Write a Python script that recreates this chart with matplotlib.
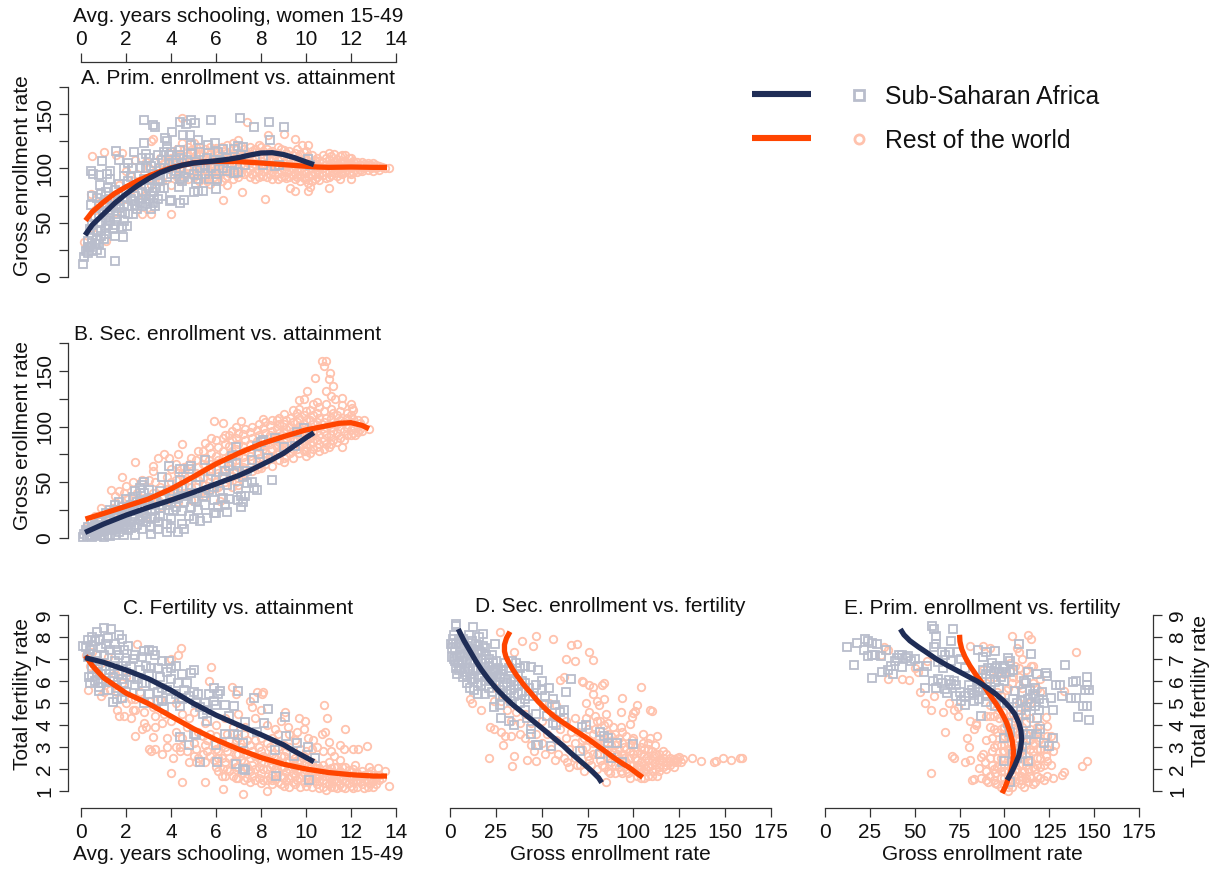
import numpy as np
import matplotlib
matplotlib.use('Agg')
import matplotlib.pyplot as plt
from matplotlib.lines import Line2D

plt.rcParams['font.family'] = ['Liberation Sans', 'DejaVu Sans']

W, H = 1214, 869
NAVY = '#1f2d56'
ORANGE = '#ff4500'
PALE_ORANGE = '#ffc2ad'
PALE_NAVY = '#b9bdcc'

# trend lines
a_navy = [(0.18,38.5),(0.5,48),(1,58),(1.5,68),(2,76.5),(2.5,84),(3,90.5),(3.5,96),(4,100),(4.5,103),(5,105),(5.5,106),(6,107),(6.5,108.3),(7,110),(7.5,112.3),(8,114.2),(8.5,114.5),(9,112.8),(9.5,109.8),(10,106),(10.35,103.5)]
a_orange = [(0.2,52),(0.5,60),(1,69),(1.5,77),(2,83),(2.5,88.5),(3,93),(3.5,97),(4,100.5),(4.5,103),(5,105),(5.5,106),(6,106.5),(7,106.3),(8,105),(9,103.5),(10,102),(10.5,101.3),(11,101),(12,101.3),(13,101),(13.6,101)]
b_navy = [(0.18,5),(1,12.5),(2,20.5),(3,27.5),(4,34),(5,41),(6,48.5),(7,56),(7.5,60.5),(8,65.5),(8.5,70.5),(9,76),(9.5,83),(10,90),(10.35,94.5)]
b_orange = [(0.2,17),(1,22),(2,28.5),(3,35),(4,44),(5,55),(6,66.5),(7,76),(8,84.5),(9,91),(10,97),(11,101),(11.5,103),(12,103.5),(12.5,101),(12.8,98)]
c_navy = [(0.18,7.06),(1,6.85),(2,6.5),(3,6.1),(4,5.58),(5,4.98),(6,4.45),(7,4.0),(8,3.56),(9,3.1),(9.5,2.8),(10.35,2.33)]
c_orange = [(0.2,7.15),(0.5,6.7),(1,6.15),(1.5,5.8),(2,5.45),(3,4.97),(4,4.4),(5,3.83),(6,3.33),(7,2.9),(8,2.52),(9,2.22),(10,2),(11,1.84),(12,1.74),(13,1.68),(13.6,1.68)]
d_navy = [(4.5,8.36),(7.5,7.85),(11,7.35),(14,6.92),(17,6.53),(21,6.08),(25.5,5.63),(30,5.25),(34.5,4.9),(39,4.6),(43.6,4.3),(48,4.0),(52.7,3.68),(57,3.38),(61.8,3.05),(66,2.72),(70.9,2.37),(75,2.08),(78,1.85),(81,1.6),(82.7,1.38)]
d_orange = [(32.7,8.24),(30.8,7.95),(29.7,7.65),(29.7,7.35),(30.5,7.1),(32,6.85),(34,6.55),(36.4,6.25),(40,5.85),(43.6,5.5),(48,5.07),(52.7,4.68),(57,4.38),(61.8,4.1),(66,3.87),(71,3.6),(75.5,3.35),(80,3.08),(85,2.78),(89,2.53),(94,2.25),(98,2.05),(102,1.8),(105,1.62)]
e_navy = [(42,8.36),(44,8.1),(47.3,7.83),(52,7.55),(56.6,7.3),(62,7),(67.7,6.73),(73,6.5),(78.8,6.25),(85,5.98),(90,5.72),(95,5.42),(99.3,5.12),(103,4.8),(105.8,4.5),(108,4.1),(109.2,3.75),(109.6,3.35),(109,2.95),(108,2.6),(106,2.2),(104,1.85),(101.5,1.5)]
e_orange = [(75,8.1),(75.2,7.8),(76.2,7.45),(78,7.1),(80.7,6.7),(84,6.3),(88,5.85),(92,5.35),(95.5,4.95),(98.5,4.55),(101,4.15),(103,3.7),(104.3,3.3),(105,2.85),(104.8,2.4),(104,2),(102.6,1.65),(100.5,1.2),(98.7,0.9)]

# scatter clouds
a_africa = [(0.1,12),(1.5,15),(0.9,22),(0.15,18),(0.2,24),(0.3,22),(0.5,24),(0.7,25),(0.4,28),(0.6,30),(0.8,30),(0.3,33),(0.5,36),(0.9,38),(1.0,35),(0.7,42),(1.1,45),(0.5,48),(0.9,50),(1.3,52),(0.4,44),(1.5,38),(1.85,37),(2.05,47),(1.8,46),(1.5,48),(1.2,57),(1.6,58),(1.9,52),(1.0,60),(1.4,65),(0.8,66),(0.45,66),(0.5,75),(0.7,73),(0.9,76),(1.1,78),(0.85,85),(1.2,82),(1.5,80),(0.45,98),(0.55,95),(0.8,94),(1.15,95),(1.3,98),(0.95,107),(1.55,116),(1.7,108),(2.1,105),(2.3,100),(1.9,100),(2.35,115),(2.8,123),(2.7,110),(2.9,113),(2.8,145),(3.2,140),(3.3,138),(3.75,128),(3.8,125),(4.05,134),(4.4,143),(4.65,141),(4.9,145),(5.05,142),(5.8,145),(7.05,146),(7.7,138),(8.35,143),(9.0,138),(8.4,126),(4.55,131),(4.85,131),(5.2,126),(5.65,122),(5.95,123),(4,71),(3.95,70),(4.4,68),(4.6,71),(5,78),(5.2,79),(5.4,79),(6,81),(6.05,90),(4.35,83),(4.4,90),(4.6,92),(3.7,82),(3.5,82),(7.2,120),(7.0,121),(6.8,118),(8.1,103),(8.6,102),(8.8,103),(10.2,103),(10.1,109),(8.1,110),
(2.1,65),(2.3,58),(2.3,70),(2.4,75),(2.5,63),(2.5,85),(2.6,68),(2.7,65),(2.7,78),(2.8,90),(2.9,67),(3,72),(3,82),(3.1,63),(3.2,68),(3.2,78),(3.2,95),(3.3,65),(3.4,72),(3.4,88),(3.5,100),(3.6,108),(3.3,105),(3,110),(3.9,112),(3.7,115),(3.8,120),(4,115),(4.1,105),(4.2,98),(4.4,112),(4.4,117),(4.4,100),(4.5,88),(4.7,108),(4.9,113),(4.9,122),(5,95),(5.1,87),(5.2,90),(5.3,100),(5.3,115),(5.5,103),(5.5,95),(5.7,90),(5.8,100),(5.9,108),(6,95),(6.1,115),(6.3,118),(6.3,100),(6.5,98),(6.5,110),(6.7,105),(6.8,96),(7,97),(7.1,112),(7.3,103),(3.5,90),(2.1,88),(2,78),(1.7,70),(1.8,60),(2.2,92),(2.6,100),(2.9,100),(1.3,72),(1,68),(1.7,86),(1.9,93),(1.3,90),(3.8,92),(4,95),(3.6,75),
(0.3,28),(0.5,31),(0.7,34),(0.9,43),(1.1,40),(1.2,48),(1.4,44),(0.6,56),(0.8,58),(1.1,54),(1.3,62),(1.6,53),(1.7,64),(1.9,66),(1.5,72),(2.1,58),(2.2,72),(2.4,66),(2.7,72),(2.9,76),(3.1,75),(3.3,82),(3,90),(3.5,94),(3.7,100),(3.9,104),(3.1,102),(3.4,112),(4.2,108),(4.5,105),(4.8,99),(5.1,106),(5.6,110),(6.2,107)]
a_rest = [(0.15,32),(0.45,76),(0.5,111),(1.0,115),(1.55,112),(1.8,114),(0.8,68),(0.6,62),(1.1,33),(0.5,45),(4,58),(6.3,71),(7.15,78),(8.2,72),(9.3,82),(9.5,79),(10.1,79),(10.2,83),(11,82),(11.5,90),(12,90),(4.5,146),(7.4,143),(8.3,131),(9,132),(9.5,127),(10.1,122),(9.8,122),(3.2,127),(3.1,125),(6,119),(1.2,70),(1.4,75),(1.9,72),(2.2,80),(2.4,108),(2.5,95),(2.7,58),(2.8,75),(3.1,58),(3,100),(3.3,92),(3.5,110),(3.7,105),
(4,85),(4,100),(4,110),(4.25,92),(4.25,105),(4.25,118),(4.5,98),(4.5,110),(4.5,123),(4.75,90),(4.75,102),(4.75,112),(4.75,120),(5,92),(5,100),(5,108),(5,116),(5,123),(5.25,88),(5.25,97),(5.25,105),(5.25,112),(5.25,120),(5.5,92),(5.5,100),(5.5,108),(5.5,118),(5.75,86),(5.75,96),(5.75,104),(5.75,113),(5.75,120),(6,90),(6,99),(6,107),(6,114),(6.25,88),(6.25,97),(6.25,105),(6.25,112),(6.25,120),(6.5,85),(6.5,93),(6.5,102),(6.5,110),(6.5,122),(6.75,90),(6.75,99),(6.75,106),(6.75,114),(6.75,123),(7,92),(7,100),(7,107),(7,114),(7,126),(7.25,95),(7.25,103),(7.25,110),(7.25,118),(7.5,92),(7.5,99),(7.5,106),(7.5,113),(7.5,120),(7.75,90),(7.75,97),(7.75,104),(7.75,111),(7.75,118),(8,95),(8,101),(8,107),(8,113),(8,120),(8.25,92),(8.25,99),(8.25,105),(8.25,111),(8.25,118),(8.5,90),(8.5,97),(8.5,103),(8.5,109),(8.5,116),(8.75,90),(8.75,96),(8.75,102),(8.75,108),(8.75,114),(8.75,120),(9,93),(9,99),(9,105),(9,111),(9,117),(9.25,92),(9.25,98),(9.25,104),(9.25,110),(9.25,116),(9.5,90),(9.5,96),(9.5,102),(9.5,108),(9.5,114),(9.75,88),(9.75,94),(9.75,100),(9.75,106),(9.75,113),(10,90),(10,96),(10,102),(10,108),(10,116),(10.25,88),(10.25,94),(10.25,100),(10.25,106),(10.25,112),(10.5,92),(10.5,98),(10.5,104),(10.5,110),(10.75,94),(10.75,100),(10.75,106),(10.75,112),(11,92),(11,97),(11,103),(11,108),(11,114),(11.25,96),(11.25,101),(11.25,106),(11.25,113),(11.5,96),(11.5,101),(11.5,106),(11.5,111),(11.75,97),(11.75,102),(11.75,107),(11.75,112),(12,95),(12,100),(12,105),(12,110),(12.25,97),(12.25,101),(12.25,106),(12.5,98),(12.5,102),(12.5,106),(12.75,99),(12.75,103),(12.75,105),(13,98),(13,101),(13,105),(13.25,99),(13.25,102),(13.5,100),(13.7,100),
(1.5,60),(1.7,85),(2,98),(2.3,88),(2.6,80),(2.9,106),(3.1,85),(3.4,100),(3.6,88),(3.8,100),(3.9,114),
(4.1,95),(4.1,104),(4.4,88),(4.4,101),(4.4,113),(4.6,94),(4.6,105),(4.6,118),(4.9,96),(4.9,106),(4.9,117),(5.1,96),(5.1,104),(5.1,112),(5.1,120),(5.4,92),(5.4,102),(5.4,112),(5.6,88),(5.6,97),(5.6,105),(5.6,115),(5.9,92),(5.9,101),(5.9,110),(5.9,118),(6.1,94),(6.1,103),(6.1,110),(6.4,91),(6.4,100),(6.4,108),(6.4,116),(6.6,96),(6.6,105),(6.6,113),(6.9,95),(6.9,103),(6.9,110),(6.9,119),(7.1,96),(7.1,104),(7.1,111),(7.1,121),(7.4,97),(7.4,106),(7.4,114),(7.6,95),(7.6,102),(7.6,109),(7.6,116),(7.9,92),(7.9,99),(7.9,105),(7.9,115),(7.9,122),(8.1,93),(8.1,98),(8.1,104),(8.1,116),(8.4,95),(8.4,102),(8.4,108),(8.4,115),(8.6,94),(8.6,100),(8.6,106),(8.6,112),(8.9,92),(8.9,98),(8.9,104),(8.9,110),(8.9,118),(9.1,91),(9.1,97),(9.1,102),(9.1,108),(9.1,114),(9.4,94),(9.4,100),(9.4,106),(9.4,112),(9.6,92),(9.6,98),(9.6,104),(9.6,110),(9.6,118),(9.9,91),(9.9,97),(9.9,103),(9.9,109),(9.9,115),(10.1,87),(10.1,93),(10.1,99),(10.1,105),(10.1,111),(10.4,90),(10.4,96),(10.4,102),(10.4,108),(10.6,89),(10.6,95),(10.6,101),(10.6,107),(10.9,91),(10.9,97),(10.9,103),(10.9,110),(11.1,94),(11.1,100),(11.1,105),(11.1,111),(11.4,93),(11.4,99),(11.4,104),(11.4,109),(11.6,95),(11.6,100),(11.6,105),(11.6,112),(11.9,96),(11.9,101),(11.9,105),(11.9,110),(12.1,97),(12.1,102),(12.1,107),(12.4,99),(12.4,103),(12.6,100),(12.6,104),(12.9,100),(12.9,103),(13.1,100),(13.1,103),(13.4,101)]

b_africa = [(2.4,3),(3.1,4),(3.8,5),(4.3,5),(4.0,9),(4.6,8),(4.5,13),(5,17),(5.3,15),(5.6,18),(5.9,22),(6.0,22),(6.5,23),(7.1,28),(7.1,38),(7.3,38),(7.2,32),(7.0,34),(3.9,65),(3.6,55),(4.4,62),(4.9,65),(4.8,62),(5.5,70),(6.6,65),(6.4,60),(6.7,74),(6.9,67),(6.9,82),(7.3,60),(7.9,75),(7.8,83),(8.1,88),(8.0,86),(8.6,90),(9,82),(9.5,83),(9.6,95),(9.9,99),(8.3,72),(8.5,52),(7.7,45),(7.8,43),(7.4,49),(7.6,50),(2.4,42),(2.6,45),(2.7,48),(2.8,50),(1.5,30),(1.7,32),
(0.1,1),(0.15,4),(0.2,7),(0.25,2),(0.3,10),(0.4,3),(0.4,6),(0.5,1),(0.5,9),(0.6,4),(0.6,12),(0.7,2),(0.7,7),(0.8,14),(0.9,3),(0.9,9),(0.9,18),(1,1),(1,6),(1,12),(1.1,22),(1.2,3),(1.2,10),(1.2,16),(1.3,2),(1.3,25),(1.4,7),(1.4,13),(1.5,19),(1.5,3),(1.6,10),(1.6,25),(1.7,15),(1.7,5),(1.8,21),(1.8,28),(1.9,3),(1.9,11),(2,17),(2,24),(2,35),(2.1,7),(2.2,14),(2.2,30),(2.3,20),(2.3,37),(2.4,10),(2.5,26),(2.6,16),(2.6,33),(2.7,8),(2.8,22),(2.8,40),(2.9,14),(3,30),(3,43),(3.1,10),(3.1,19),(3.2,35),(3.3,25),(3.4,8),(3.4,14),(3.5,42),(3.5,20),(3.6,30),(3.7,36),(3.8,13),(3.9,25),(3.9,48),(4,18),(4,32),(4.1,42),(4.2,28),(4.3,36),(4.4,52),(4.5,24),(4.5,45),(4.6,32),(4.8,20),(4.9,28),(4.9,40),(5,35),(5.1,48),(5.2,25),(5.3,55),(5.4,38),(5.5,30),(5.7,43),(5.8,60),(5.9,34),(6,52),(6.1,28),(6.2,42),(6.3,55),(6.4,30),(6.5,48),(6.6,35),(6.8,58),(7,44),(7.2,55),(7.4,60),(7.6,70),
(0.3,5),(0.5,14),(0.7,11),(0.8,5),(0.9,14),(1.1,9),(1.1,17),(1.3,11),(1.3,20),(1.5,8),(1.5,15),(1.6,20),(1.7,11),(1.8,8),(1.8,16),(2,12),(2,20),(2.1,28),(2.2,9),(2.3,24),(2.4,17),(2.5,12),(2.5,32),(2.7,20),(2.7,28),(2.9,18),(2.9,34),(3.1,24),(3.3,18),(3.3,32),(3.5,27),(3.6,38),(3.8,30),(4.1,24),(4.3,42),(4.7,38),(5.1,33),(5.5,40),(5.9,46),(6.3,36)]
b_rest = [(10.7,159),(10.9,159),(10.8,154),(11.05,148),(11.0,143),(10.4,144),(10.05,132),(10.9,132),(11.2,136),(11.1,127),(11.6,126),(11.3,125),(9.9,125),(9.7,124),(12,120),(12.05,117),(12.1,115),(11.6,119),(5.9,105),(6.3,103),(7.1,105),(4.5,84),(2.4,68),(3.2,65),(3.4,72),(3.7,75),(3.9,72),(4.3,75),(0.6,20),(0.9,27),(1.35,43),(1.8,55),(1.5,38),(2.0,47),(1.25,22),(1.7,42),(1.9,40),(2.1,36),(2.3,50),(2.5,40),(2.7,52),(3,52),(3.3,50),(3.5,46),(3.2,60),(2.9,19),(3.9,34),(6.2,33),(6,45),(7,48),(8,63),(8.5,65),(9,68),(10,78),(11,82),(11.6,82),(12.2,92),(12.5,96),(12.8,98),(12.6,106),(12.3,106),
(0.2,10),(0.4,14),(0.6,12),(0.8,18),(1,20),(1.2,17),(1.4,27),(1.6,24),(1.8,30),(2,24),(2.2,30),(2.4,34),(2.6,28),(2.8,36),(3,30),(3.2,40),(3.4,34),(3.6,28),(3.8,44),(3.8,55),(4,38),(4,50),(4,62),(4.3,32),(4.3,46),(4.3,58),(4.6,40),(4.6,52),(4.6,64),(4.9,34),(4.9,46),(4.9,58),(4.9,72),(5.2,40),(5.2,52),(5.2,64),(5.2,78),(5.5,38),(5.5,48),(5.5,60),(5.5,72),(5.5,85),(5.8,44),(5.8,56),(5.8,66),(5.8,76),(5.8,90),(6.1,46),(6.1,58),(6.1,70),(6.1,82),(6.4,50),(6.4,62),(6.4,72),(6.4,84),(6.4,92),(6.7,46),(6.7,56),(6.7,68),(6.7,78),(6.7,88),(6.7,96),(7,54),(7,64),(7,74),(7,84),(7,94),(7.3,58),(7.3,68),(7.3,78),(7.3,88),(7.3,98),(7.6,60),(7.6,70),(7.6,80),(7.6,90),(7.6,100),(7.9,64),(7.9,72),(7.9,82),(7.9,92),(7.9,102),(8.2,66),(8.2,76),(8.2,84),(8.2,94),(8.2,104),(8.5,72),(8.5,80),(8.5,88),(8.5,96),(8.5,106),(8.8,70),(8.8,78),(8.8,86),(8.8,94),(8.8,102),(8.8,108),(9.1,74),(9.1,82),(9.1,90),(9.1,98),(9.1,106),(9.4,72),(9.4,80),(9.4,88),(9.4,96),(9.4,104),(9.4,115),(9.7,76),(9.7,84),(9.7,92),(9.7,100),(9.7,108),(9.7,116),(10,74),(10,82),(10,90),(10,98),(10,106),(10,114),(10.3,80),(10.3,86),(10.3,94),(10.3,102),(10.3,110),(10.3,120),(10.6,78),(10.6,84),(10.6,92),(10.6,100),(10.6,108),(10.6,118),(10.9,84),(10.9,92),(10.9,100),(10.9,108),(10.9,120),(11.2,88),(11.2,96),(11.2,104),(11.2,112),(11.5,90),(11.5,98),(11.5,106),(11.5,114),(11.8,92),(11.8,100),(11.8,108),(11.8,112),(12.1,94),(12.1,100),(12.1,107),(12.4,98),(12.4,103),
(3.6,36),(3.9,44),(4.2,38),(4.2,52),(4.2,66),(4.5,46),(4.5,58),(4.8,40),(4.8,52),(4.8,66),(5.1,46),(5.1,58),(5.1,70),(5.4,42),(5.4,54),(5.4,66),(5.4,78),(5.7,50),(5.7,60),(5.7,70),(5.7,82),(6,50),(6,62),(6,74),(6,88),(6.3,54),(6.3,66),(6.3,78),(6.3,90),(6.6,52),(6.6,62),(6.6,73),(6.6,83),(6.6,92),(6.9,50),(6.9,59),(6.9,70),(6.9,80),(6.9,90),(6.9,100),(7.2,56),(7.2,64),(7.2,73),(7.2,83),(7.2,93),(7.5,64),(7.5,74),(7.5,84),(7.5,95),(7.8,62),(7.8,68),(7.8,77),(7.8,87),(7.8,97),(8.1,70),(8.1,80),(8.1,89),(8.1,99),(8.1,107),(8.4,74),(8.4,84),(8.4,92),(8.4,101),(8.7,76),(8.7,82),(8.7,90),(8.7,98),(8.7,106),(9,72),(9,78),(9,86),(9,94),(9,102),(9,111),(9.3,76),(9.3,84),(9.3,92),(9.3,100),(9.3,108),(9.6,80),(9.6,88),(9.6,96),(9.6,104),(9.6,112),(9.9,78),(9.9,86),(9.9,94),(9.9,102),(9.9,110),(10.2,76),(10.2,84),(10.2,90),(10.2,98),(10.2,106),(10.2,115),(10.5,82),(10.5,88),(10.5,96),(10.5,104),(10.5,112),(10.5,122),(10.8,80),(10.8,88),(10.8,96),(10.8,104),(10.8,114),(11.1,84),(11.1,92),(11.1,100),(11.1,108),(11.1,116),(11.4,86),(11.4,94),(11.4,102),(11.4,110),(11.7,88),(11.7,96),(11.7,104),(12,92),(12,97),(12,104),(12,110),(12.3,95),(12.3,100)]

c_africa = [(1,8.4),(0.7,8.25),(1.35,8.35),(1.7,8.1),(0.3,7.85),(0.2,7.55),(0.1,7.6),(0.5,8.0),(2.1,7.6),(1.8,7.9),(5,6.5),(4.9,6.35),(5.3,2.3),(6.05,2.3),(6.9,2.25),(7.2,2),(7.3,1.95),(8.65,1.7),(10.15,1.5),(4.4,3.45),(4.8,3.1),(6,3.1),(5,3.6),(5.1,3.55),(6.4,3.6),(6.8,3.6),(7,3.55),(7.2,3.2),(7.3,4.15),(7.8,3.7),(8.15,4.1),(8.3,4.75),(9.05,4.35),(9.1,3.5),(9.6,3.2),(9.45,2.6),(10.1,3),(10.4,2.5),(8.6,2.85),(7,5.55),(7.7,5.25),(6.8,4.85),(5.9,5.7),(1.4,5.05),(1.6,5.2),(1.8,5.25),(0.8,5.55),(0.4,5.9),(0.35,6.2),(0.6,6.0),(0.8,5.75),(1.1,5.95),(1.3,6.5),(0.5,7.6),(0.7,7.2),(0.9,7.5),(1.1,7.7),(1.3,7.4),(1.5,7.7),(1.7,7.2),(1.9,7.4),(2,6.9),(0.5,6.6),(0.7,6.9),(0.9,6.3),(1.1,6.7),(1.3,6),(1.5,6.9),(1.7,6.3),(1.9,5.9),(0.3,7.1),(2.2,6.2),(2.4,7.2),(2.4,5.8),(2.6,6.5),(2.7,7.1),(2.8,7.35),(3,7.4),(3.2,7.35),(3.3,7.2),(3.1,6.6),(2.9,5.9),(2.8,5),(3.4,5.5),(3.5,6.2),(3.6,5.1),(3.7,4.8),(3.6,6.9),(3.8,6.4),(4,6.1),(4,6.6),(4,5.2),(4.2,6.7),(4.3,5.9),(4.4,4.85),(4.5,6.3),(4.6,5.6),(4.8,5.3),(5,5.5),(5.1,5.0),(5.2,5.4),(5.4,4.5),(5.5,5.0),(5.6,4.2),(5.7,5.4),(5.9,5.1),(6.1,5.4),(6.2,5.55),(6.4,4.9),(6.6,4.4),
(0.4,7.4),(0.6,7.8),(0.8,7.9),(1,7.2),(1.2,7.95),(1.4,6.7),(1.6,7.4),(1.8,6.7),(0.5,6.2),(0.7,6.4),(0.9,5.9),(1.1,6.3),(1.2,5.6),(1.4,6.2),(1.6,5.7),(1.8,6.1),(2,6.4),(2,5.5),(2.2,6.7),(2.3,7),(2.5,6.1),(2.6,5.4),(2.7,5.9),(2.9,6.7),(3,6.3),(3,5.4),(3.2,5.8),(3.4,6.6),(3.4,5.1),(3.6,5.7),(3.8,5.6),(3.9,6.9),(4.2,5.4),(4.5,5.2),(4.7,5.9),(5.3,4.8),(5.6,4.7),(6,4.9)]
c_rest = [(0.3,5.6),(0.9,5.3),(1,5.5),(1.6,4.7),(1.7,4.4),(1.9,4.4),(2,5),(2.2,4.3),(2.3,4.7),(2.4,5.2),(2.4,3.5),(2.5,7.7),(2.7,3.8),(2.8,4.1),(2.9,3.9),(3,2.9),(3.1,2.8),(3.2,3.45),(3.3,2.9),(3.3,3.9),(3.3,4.4),(3.6,2.7),(3.6,4.1),(3.8,3.4),(3.8,3),(4,1.8),(4.1,2.5),(4.2,3),(4.4,3),(4.5,1.4),(4.4,2.8),(4,7),(4.3,7.2),(4.45,7.5),(4.8,4.3),(4.8,2.3),(5,2.6),(5.1,2.9),(5.5,1.4),(5.4,3.5),(5.6,2.8),(5.7,6),(5.8,6.65),(6,3.5),(6.1,2.5),(6.3,1.1),(6.3,2),(6.4,4.3),(6.7,5.75),(6.9,5.4),(7,4.5),(7.2,0.85),(7.3,3.9),(7.5,5.1),(7.6,4.8),(7.8,5.5),(8,4.7),(8.05,5.4),(8.1,5.5),(8.25,0.98),(8.5,1.5),(8.6,3.8),(8.9,4.2),(9.05,4.6),(9.2,3.9),(9.6,3.7),(9.7,4.3),(9.95,4.2),(9.9,3.8),(10.1,3.4),(10.3,3.3),(10.8,4.9),(10.95,4.3),(10.7,3.6),(10.85,3.7),(11,3.25),(11.1,2.8),(11.5,3.1),(11.7,2.9),(11.75,3.8),(12.1,2.9),(12.3,2.9),(12.7,3.05),(13.7,1.22),(12.2,2.2),(12.8,2.1),(13.2,2.05),(13.5,1.9),
(0.2,7.2),(0.4,6.7),(0.5,7.3),(0.7,6.3),(0.9,6.8),(1.1,6),(1.2,7.1),(1.3,5.6),(1.5,6.3),(1.6,5.5),(1.8,5.9),(2,6.2),(2.2,5.2),(2.4,4.7),(2.6,5.5),(2.8,4.6),(3,5.1),(3.2,4.8),(3.5,5.2),(3.7,4.5),(4,4.2),(4.2,3.7),(4.2,5),(4.5,3.4),(4.5,4.5),(4.7,2.8),(4.7,3.9),(5,3.2),(5,4.6),(5.2,2.5),(5.2,3.7),(5.5,2.3),(5.5,3.1),(5.5,4.1),(5.75,2.6),(5.75,3.6),(6,2.1),(6,2.9),(6,4),(6.25,1.7),(6.25,2.5),(6.25,3.2),(6.5,2),(6.5,2.8),(6.5,3.6),(6.75,1.7),(6.75,2.3),(6.75,3),(6.75,3.9),(7,1.6),(7,2.1),(7,2.7),(7,3.4),(7.25,1.5),(7.25,2.3),(7.25,2.9),(7.25,3.6),(7.5,1.4),(7.5,1.9),(7.5,2.5),(7.5,3.1),(7.75,1.5),(7.75,2),(7.75,2.6),(7.75,3.3),(7.75,4.3),(8,1.35),(8,1.8),(8,2.3),(8,2.8),(8,3.4),(8.25,1.5),(8.25,2),(8.25,2.5),(8.25,3.2),(8.25,4),(8.5,1.3),(8.5,1.75),(8.5,2.2),(8.5,2.7),(8.5,3.4),(8.75,1.4),(8.75,1.85),(8.75,2.3),(8.75,3),(8.75,3.6),(9,1.25),(9,1.65),(9,2.1),(9,2.6),(9,3.1),(9.25,1.2),(9.25,1.6),(9.25,2),(9.25,2.4),(9.25,3),(9.25,3.6),(9.5,1.3),(9.5,1.7),(9.5,2.1),(9.5,2.5),(9.5,3.3),(9.75,1.2),(9.75,1.6),(9.75,2),(9.75,2.4),(9.75,2.9),(10,1.25),(10,1.6),(10,1.95),(10,2.3),(10,2.8),(10.25,1.2),(10.25,1.55),(10.25,1.9),(10.25,2.3),(10.25,2.9),(10.5,1.3),(10.5,1.6),(10.5,1.9),(10.5,2.2),(10.5,3),(10.75,1.2),(10.75,1.5),(10.75,1.85),(10.75,2.2),(10.75,2.8),(10.9,1.05),(11,1.3),(11,1.6),(11,1.9),(11,2.3),(11.25,1.2),(11.25,1.5),(11.25,1.8),(11.25,2.1),(11.25,2.6),(11.5,1.3),(11.5,1.6),(11.5,1.9),(11.5,2.4),(11.75,1.15),(11.75,1.45),(11.75,1.75),(11.75,2.1),(12,1.25),(12,1.55),(12,1.85),(12.25,1.2),(12.25,1.5),(12.25,1.8),(12.5,1.3),(12.5,1.6),(12.5,1.9),(12.75,1.2),(12.75,1.5),(12.75,1.8),(13,1.2),(13,1.45),(13,1.75),(13.25,1.5),(13.25,1.75),
(5.1,2.3),(5.4,2.7),(5.6,3.3),(5.9,2.4),(5.9,3.2),(6.1,1.9),(6.1,2.8),(6.4,1.7),(6.4,2.3),(6.4,3),(6.6,1.9),(6.6,2.5),(6.6,3.3),(6.9,1.6),(6.9,2.1),(6.9,2.7),(6.9,3.3),(7.1,1.8),(7.1,2.4),(7.1,3),(7.4,1.6),(7.4,2.1),(7.4,2.7),(7.4,3.3),(7.6,1.7),(7.6,2.2),(7.6,2.8),(7.9,1.6),(7.9,2.1),(7.9,2.5),(7.9,3),(8.1,1.5),(8.1,2),(8.1,2.6),(8.4,1.6),(8.4,2.1),(8.4,2.4),(8.4,3),(8.6,1.55),(8.6,2),(8.6,2.5),(8.9,1.3),(8.9,1.7),(8.9,2.1),(8.9,2.6),(9.1,1.45),(9.1,1.85),(9.1,2.3),(9.1,2.8),(9.4,1.4),(9.4,1.8),(9.4,2.2),(9.4,2.7),(9.6,1.5),(9.6,1.9),(9.6,2.3),(9.9,1.4),(9.9,1.8),(9.9,2.2),(9.9,2.6),(10.1,1.4),(10.1,1.75),(10.1,2.15),(10.4,1.45),(10.4,1.75),(10.4,2.05),(10.6,1.15),(10.6,1.45),(10.6,1.75),(10.6,2.05),(10.9,1.35),(10.9,1.7),(10.9,2),(11.1,1.2),(11.1,1.45),(11.1,1.75),(11.1,2.05),(11.4,1.15),(11.4,1.45),(11.4,1.75),(11.4,2.1),(11.6,1.2),(11.6,1.5),(11.6,1.8),(11.6,2.1),(11.9,1.35),(11.9,1.65),(11.9,1.95),(12.1,1.15),(12.1,1.4),(12.1,1.7),(12.1,2),(12.4,1.4),(12.4,1.7),(12.6,1.15),(12.6,1.45),(12.6,1.75),(12.9,1.35),(12.9,1.6),(12.9,1.9),(13.1,1.3),(13.1,1.6),(13.4,1.6)]

d_africa = [(3.5,8.5),(3,8.6),(12.5,8.45),(18,8.15),(1.5,7.7),(1,7.5),(0.5,7.7),(2,8.1),(10.5,8.1),(16,8),(24.5,7.7),(2,7),(3,6.6),(4,6.3),(5,6.5),(2.5,7.4),(5,7.9),(7,7.9),(9,7.6),(12,7.8),(14,7.7),(16,7.4),(18,7.6),(5.5,7.2),(7.5,7.1),(9.5,7),(11.5,7.2),(13.5,6.9),(15.5,6.9),(17.5,7),(19.5,7.2),(21.5,7),(23.5,6.8),(6,6.6),(8,6.4),(10,6.6),(12,6.1),(14,6.5),(16,6.2),(18,6.6),(20,6.4),(22,6.2),(24,6.4),(26,6.6),(28,6.3),(30,6.8),(32,6.6),(34,6.9),(36,6.8),(38,6.6),(41,6.7),(44,6.65),(48,6.5),(9,5.9),(11,5.7),(13,5.6),(15,5.4),(17,5.8),(19,5.4),(21,5.7),(23,5.5),(25,5.9),(27,5.6),(29,5.3),(31,5.9),(33,5.6),(35,5.3),(37,5.8),(39,5.5),(41,5.2),(43,5.7),(45,5.3),(47,5.8),(50,6),(50,5.6),(52,5.3),(54,5.7),(56,5.2),(57,4.9),(60,4.6),(62,4.3),(63,5.5),(66,6.1),(62,4.7),(27,4.9),(24,4.8),(28,4.3),(32,4.2),(35,4),(42,4.3),(44,3.8),(44,3.6),(47,3.1),(48,3.1),(55,3.05),(56,4.1),(58,4),(71,2.8),(72,3.9),(74,4),(82,2.7),(82,3.7),(84,3.5),(86,3.4),(86,3.2),(91,3.2),(99.5,3.15),(88,2.5),(94,2.3),(35,6),(30,6.1),(25,6.2),(38,5),(41,4.7),(47,4.5),(51,4.9),(53,4.4),
(1,7.1),(1.5,7.9),(2.5,6.9),(3.5,7.7),(4,7.1),(4.5,6.8),(6,7.5),(6.5,6.9),(7,6.2),(8,7.6),(8.5,6.9),(9,6.2),(10.5,7.4),(11,6.8),(11,6.3),(12.5,6.5),(13,7.4),(13,6.1),(15,7.6),(15,6.6),(15,5.9),(17,7.3),(17,6.5),(19,7.5),(19,6.8),(19,6),(21,6.7),(21,6.1),(23,7.2),(23,6.5),(23,6),(25,6.9),(25,6.5),(27,6.2),(27,5.3),(29,6.5),(29,5.8),(31,5.4),(33,6.1),(33,5.1),(35,5.8),(37,5.4),(37,6.3),(39,6),(41,5.9),(43,5.3)]
d_rest = [(27.5,8.25),(47,8.05),(56,7.9),(39,7.8),(45,7.6),(66,7.65),(69,7.7),(76,7.3),(78,6.95),(63,7),(68,6.9),(35,7.3),(21,2.5),(34,2.15),(29,3.1),(33,3.5),(35,2.6),(42,2.4),(47,2.35),(57,2.4),(64,2.3),(69,2.2),(28,3.7),(22,3.9),(24,3.8),(30,3.5),(17,4.7),(12,5),(11,5.2),(24,5.1),(54,5),(58,4.9),(60,6.05),(62,6.2),(72,6),(72.5,5.95),(78,5.75),(76,5.8),(83,5.8),(84,5.9),(78,5.4),(80,5.1),(81,4.9),(84,5.2),(94,5.25),(104,5.75),(102,4.9),(101,4.65),(100,4.55),(99,4.35),(98,4.05),(109,4.7),(110,4.65),(93,4.6),(74,5.0),(132,2.5),(137,2.35),(144,2.3),(145,2.35),(149,2.5),(153,2.4),(158,2.5),(159,2.5),(127,2.45),(123,2.4),(122,2.1),(118,2.2),(116,2.5),
(20,6.3),(25,5.7),(28,5.1),(31,4.7),(33,4.2),(36,4.6),(38,4.1),(38,3.6),(41,3.4),(41,4.5),(44,3.1),(44,4.1),(46,2.8),(47,3.6),(50,3.2),(50,4.2),(52,2.7),(53,3.6),(55,2.9),(56,4.4),(58,3.3),(59,2.7),(60,3.8),(62,2.5),(63,3.4),(63,4.2),(65,2.9),(66,3.7),(68,2.5),(68,3.2),(68,4.3),(70,3.7),(71,2.2),(72,2.9),(73,3.4),(74,4.3),(75,2.6),(75,3.8),(76,4.6),(77,2.2),(78,3.2),(79,3.8),(79,4.4),(80,2),(80,2.7),(81,3.4),(82,4.2),(83,2.2),(84,2.9),(84,4),(85,4.5),(86,2.5),(86,3.6),(87,1.8),(88,3.1),(89,3.9),(90,2.2),(91,2.7),(92,3.4),(93,1.9),(93,3.9),(95,2.5),(95,3),(96,3.5),(97,1.8),(98,2.2),(98,2.8),(99,3.3),(100,1.9),(101,2.5),(101,3),(103,1.8),(103,2.2),(104,2.7),(105,3.2),(105,3.6),(107,2),(107,2.5),(108,2.9),(109,3.4),(110,1.7),(110,2.2),(111,2.6),(112,3.1),(113,3.5),(114,2.1),(115,2.4),(116,2.8),(118,2.3),(118,2.7),(120,2.2),(120,2.5),(122,2.45),(124,2.3),(125,2.55),(113,1.7),(106,1.6),(85,1.4),(73,1.9),(65,2.1),
(72,3.3),(74,3),(76,3.3),(76,2.4),(78,2.7),(78,3.6),(80,3.2),(80,4.2),(82,2.4),(82,3),(84,2.1),(84,3.4),(86,1.9),(86,2.9),(86,4.1),(88,2.3),(88,2.7),(88,3.5),(90,1.8),(90,2.6),(90,3.1),(90,3.6),(92,2.1),(92,2.5),(92,2.9),(94,1.8),(94,2.7),(94,3.2),(94,3.7),(96,2),(96,2.3),(96,2.9),(98,1.6),(98,2.5),(98,3.1),(100,2.2),(100,2.7),(100,3.4),(102,1.7),(102,2.1),(102,2.4),(102,2.8),(104,1.6),(104,2),(104,2.3),(104,3),(106,1.9),(106,2.2),(106,2.6),(106,2.9),(108,1.7),(108,2.1),(108,2.4),(108,3.2),(110,1.9),(110,2.4),(110,2.8),(112,2),(112,2.3),(112,2.7),(114,1.9),(114,2.4),(114,2.7),(116,2.1),(116,2.3),(118,2),(120,2.35),(122,2.3),(124,2.5),(126,2.3)]

e_africa = [(12,7.55),(18,7.75),(22.5,7.9),(24,7.8),(26,7.75),(29,7.7),(22,7.4),(24,7.15),(26,7.2),(28,7.2),(31,7.15),(34,7.4),(16,6.75),(26,6.15),(32,6.4),(35,6.5),(37,6.7),(38,6.3),(39,6.9),(40,7.05),(41,7.2),(43,7.2),(45,7.05),(43,6.65),(46,7.15),(48,6.9),(50,7.0),(52,6.7),(57,6.7),(55,6.4),(56,5.7),(59.5,8.5),(61,8.35),(62,8.05),(62,7.7),(61,7.55),(71.5,8.35),(70,7.8),(65,7.3),(67,7.2),(69,7.3),(70,6.9),(63,6.85),(66,6.6),(60,6),(62,5.7),(63,6.1),(65,5.9),(67,5.65),(69,6.05),(70,5.85),(72,6),(73,5.8),(68,5.45),(73,5.3),(75,5.5),(76,5.1),(78,5.3),(78,4.9),(80,5.8),(82,5.6),(80,5.45),(83,5.1),(86,5.2),(87,4.4),(88,5.6),(90,5.3),(95,4.85),(100,5),(105,5.2),(110,5.1),(112,4.8),(117,5.7),(116,5.4),(119,5.2),(117,4.85),(122,5),(126,5.25),(127,4.7),(118,4.3),(112,4.1),(110,5.5),(106,5.55),(129,5.8),(131,5.8),(132,5.3),(137,5.25),(140,5.25),(138,5.95),(140,6),(141,4.35),(144,4.85),(146,4.85),(145,5.6),(146,5.8),(147,5.6),(146,6.2),(147,4.25),(134,6.75),(123,6.35),(124,6.25),(113,6.4),(118,6.3),(111,6),(85,7.4),(88,7.1),(90,7.3),(95,7.35),(93,6.8),(90,6.3),(95,6.6),(97,6.4),(100,6.7),(102,7.05),(103,6.4),(105,6.5),(108,7.7),(115,7.25),(112,5.9),(100,6),(95,5.95),(85,5.5),(85,6.0),(78,6.6),(76,7),(74,7.3),(102,4.1),(100,3.4),(103,3.7),(113,3.6),(115,3.6),(118,3.6),(122,3.2),(125,3.05),(127,3.4),(110,3.0),(112,3.3),(110,2.7),(107,2.5),(105,2.7),(100,2.35),(113,2.35),(103,1.4),(120,3.8),(112,4.5),
(88,6.5),(91,6.6),(92,6.1),(94,6.4),(96,6.7),(98,6.2),(99,6.6),(101,6.4),(103,6.9),(97,5.7),(92,5.6),(83,5.35),(86,5.7),(90,5.05),(94,5.2),(97,5),(107,5),(109,4.7),(113,5.2),(115,5),(119,4.7),(121,5.5),(117,5.3),(114,5.6)]
e_rest = [(33,7.55),(35,7.4),(31,7.2),(35,6.1),(43,6.1),(47,6.05),(52,6.4),(50,6.6),(57,6.9),(53,5.5),(61,5.3),(56,5),(59,4.7),(66,4.6),(69,5),(72,4.7),(74,4.8),(74,4.4),(67,3.7),(81,4.2),(84,4.1),(83,3.8),(84,4),(79,3.4),(80,3),(81,2.4),(78,2.3),(71,2.6),(72,2.5),(59,1.8),(87,2.55),(86,2.05),(82,1.5),(83,1.55),(104,8.05),(115,7.9),(113,8.1),(107,7.5),(108,7.3),(116,6.7),(115,6.7),(140,7.3),(92,7.5),(88,7.6),(81,7.6),(102,1),(143,2.15),(146,2.35),(133,1.85),(132,1.75),(127,1.6),(124,2.35),(127,2.8),(128,3.1),(124,3.95),(123,4.35),(133,5.55),(120,5.5),(118,5.65),(120,6.1),
(88,6.5),(90,5.9),(92,4.9),(90,4.4),(92,3.9),(90,3.3),(88,2.7),(89,2.3),(87,1.6),(90,1.5),(90,1.9),(93,2.2),(93,2.8),(93,3.4),(94,4.4),(94,6.2),(95,1.35),(95,1.8),(96,2.5),(96,3.1),(96,3.7),(96,5.5),(97,4.3),(98,1.2),(98,1.6),(98,2.1),(99,2.8),(99,3.4),(99,4.6),(100,1.3),(100,1.9),(100,2.5),(100,3.1),(100,3.9),(100,6.3),(101,5.6),(102,1.5),(102,2.2),(102,2.9),(102,3.5),(103,4.4),(103,6.8),(104,1.2),(104,1.8),(104,2.4),(105,3),(105,3.8),(105,4.5),(105,6.2),(106,1.4),(107,2),(107,2.7),(107,3.4),(108,4.1),(108,5),(108,5.8),(108,6.6),(109,1.3),(109,1.7),(110,2.2),(110,3.5),(110,4.4),(111,1.2),(111,1.9),(112,2.6),(112,3.1),(113,1.4),(113,2),(114,3.3),(114,4.3),(114,5),(115,1.6),(115,2.3),(116,2.8),(116,3.5),(117,1.4),(117,2),(118,2.5),(119,3.3),(120,1.6),(120,2.1),(120,2.9),(120,4),(122,1.5),(123,2.6),(124,3.5),(116,5.9),(112,6.5),(110,7),
(91,1.4),(92,1.7),(92,2.5),(92,4.4),(94,1.5),(94,2),(94,3),(94,3.8),(96,1.3),(96,2.1),(96,4.5),(98,1.9),(98,2.5),(98,3.1),(98,3.8),(98,5.3),(100,1.6),(100,2.2),(100,2.8),(100,3.5),(100,4.3),(102,1.2),(102,1.9),(102,2.6),(102,3.2),(102,3.9),(102,5.7),(104,1.5),(104,2.1),(104,2.7),(104,3.4),(104,4.2),(104,5.9),(106,1.7),(106,2.3),(106,3.1),(106,3.7),(106,4.3),(106,6.7),(108,1.5),(108,2.2),(108,3),(108,3.6),(108,4.5),(108,6.2),(110,1.5),(110,1.9),(110,2.6),(110,3.1),(110,3.9),(110,5.7),(112,1.6),(112,2.2),(112,3.6),(112,4.9),(114,1.7),(114,2.4),(114,2.9),(114,3.8),(116,1.3),(116,2.1),(116,3.1),(118,1.7),(118,2.2),(118,2.9),(118,3.9),(120,2.5),(120,3.4),(122,2.2),(122,2.9),(124,1.7),(124,2.9),(126,2.2),(126,3.5)]

xticks_years = [0, 2, 4, 6, 8, 10, 12, 14]
xticks_enroll = [0, 25, 50, 75, 100, 125, 150, 175]
yticks_enroll = [0, 25, 50, 75, 100, 125, 150, 175]
yticklabels_enroll = ['0', '', '50', '', '100', '', '150', '']
yticks_fert = [1, 2, 3, 4, 5, 6, 7, 8, 9]


def px_text(x, y, s, size=15, **kw):
    fig.text(x / W, 1 - y / H, s, size=size, color='#111111', ha=kw.pop('ha', 'center'), va='center', **kw)


def make_axes(left, right, top, bottom, xlim, ylim):
    ax = fig.add_axes([left / W, 1 - bottom / H, (right - left) / W, (bottom - top) / H])
    ax.set_xlim(xlim)
    ax.set_ylim(ylim)
    ax.patch.set_alpha(0)
    for s in ax.spines.values():
        s.set_visible(False)
        s.set_linewidth(0.9)
        s.set_color('#333333')
    ax.tick_params(length=6.5, width=0.9, color='#333333', labelsize=15, labelcolor='#111111')
    ax.set_xticks([])
    ax.set_yticks([])
    return ax


def draw_panel(ax, rest, africa, orange_line, navy_line):
    rest = np.array(rest)
    africa = np.array(africa)
    ax.plot(rest[:, 0], rest[:, 1], 'o', mfc='none', mec=PALE_ORANGE, ms=5.4, mew=1.3, clip_on=False, zorder=2)
    ax.plot(africa[:, 0], africa[:, 1], 's', mfc='none', mec=PALE_NAVY, ms=5.2, mew=1.3, clip_on=False, zorder=3)
    orange_line = np.array(orange_line)
    navy_line = np.array(navy_line)
    ax.plot(orange_line[:, 0], orange_line[:, 1], color=ORANGE, lw=3.8, solid_capstyle='butt', solid_joinstyle='round', clip_on=False, zorder=4)
    ax.plot(navy_line[:, 0], navy_line[:, 1], color=NAVY, lw=3.8, solid_capstyle='butt', solid_joinstyle='round', clip_on=False, zorder=5)


def left_axis(ax, ticks, labels=None):
    ax.spines['left'].set_visible(True)
    ax.spines['left'].set_position(('outward', 9.4))
    ax.set_yticks(ticks)
    if labels is not None:
        ax.set_yticklabels(labels)
    ax.tick_params(axis='y', which='major', pad=3.5)
    for t in ax.get_yticklabels():
        t.set_rotation(90)
        t.set_va('center')


def bottom_axis(ax, ticks):
    ax.spines['bottom'].set_visible(True)
    ax.spines['bottom'].set_position(('outward', 12.2))
    ax.set_xticks(ticks)
    ax.tick_params(axis='x', pad=4)


fig = plt.figure(figsize=(W / 100, H / 100), dpi=100)

ax_a = make_axes(81, 396, 87, 277, (0, 14), (0, 175))
draw_panel(ax_a, a_rest, a_africa, a_orange, a_navy)
left_axis(ax_a, yticks_enroll, yticklabels_enroll)
ax_a.spines['top'].set_visible(True)
ax_a.spines['top'].set_position(('outward', 18))
ax_a.xaxis.tick_top()
ax_a.set_xticks(xticks_years)
ax_a.tick_params(axis='x', pad=3)

ax_b = make_axes(81, 396, 343, 538, (0, 14), (0, 175))
draw_panel(ax_b, b_rest, b_africa, b_orange, b_navy)
left_axis(ax_b, yticks_enroll, yticklabels_enroll)

ax_c = make_axes(81, 396, 615, 791, (0, 14), (1, 9))
draw_panel(ax_c, c_rest, c_africa, c_orange, c_navy)
left_axis(ax_c, yticks_fert)
bottom_axis(ax_c, xticks_years)

ax_d = make_axes(450, 771, 615, 791, (0, 175), (1, 9))
draw_panel(ax_d, d_rest, d_africa, d_orange, d_navy)
bottom_axis(ax_d, xticks_enroll)

ax_e = make_axes(825, 1139, 615, 791, (0, 175), (1, 9))
draw_panel(ax_e, e_rest, e_africa, e_orange, e_navy)
bottom_axis(ax_e, xticks_enroll)
ax_e.spines['right'].set_visible(True)
ax_e.spines['right'].set_position(('outward', 10))
ax_e.yaxis.tick_right()
ax_e.set_yticks(yticks_fert)
ax_e.tick_params(axis='y', pad=4.5)
for t in ax_e.get_yticklabels():
    t.set_rotation(90)
    t.set_va('center')

px_text(238, 17, 'Avg. years schooling, women 15-49')
px_text(238, 79, 'A. Prim. enrollment vs. attainment')
px_text(228, 335, 'B. Sec. enrollment vs. attainment')
px_text(238, 608, 'C. Fertility vs. attainment')
px_text(610, 607, 'D. Sec. enrollment vs. fertility')
px_text(982, 608, 'E. Prim. enrollment vs. fertility')
px_text(238, 855, 'Avg. years schooling, women 15-49')
px_text(610, 855, 'Gross enrollment rate')
px_text(982, 855, 'Gross enrollment rate')
px_text(23, 176, 'Gross enrollment rate', rotation=90)
px_text(23, 436, 'Gross erollment rate', rotation=90)
px_text(23, 694, 'Total fertility rate', rotation=90)
px_text(1201, 691, 'Total fertility rate', rotation=90)

# legend, placed by hand like the original
for py, color, edge, marker, label in [(94, NAVY, PALE_NAVY, 's', 'Sub-Saharan Africa'), (138, ORANGE, PALE_ORANGE, 'o', 'Rest of the world')]:
    fig.add_artist(Line2D([752 / W, 811 / W], [1 - py / H] * 2, color=color, lw=4.4, solid_capstyle='butt'))
    fig.add_artist(Line2D([859 / W], [1 - (py + 1) / H], marker=marker, mfc='none', mec=edge, ms=6.6, mew=2, ls='none'))
    px_text(885, py + 3, label, size=17.8, ha='left')

fig.savefig('out.png', dpi=100)
